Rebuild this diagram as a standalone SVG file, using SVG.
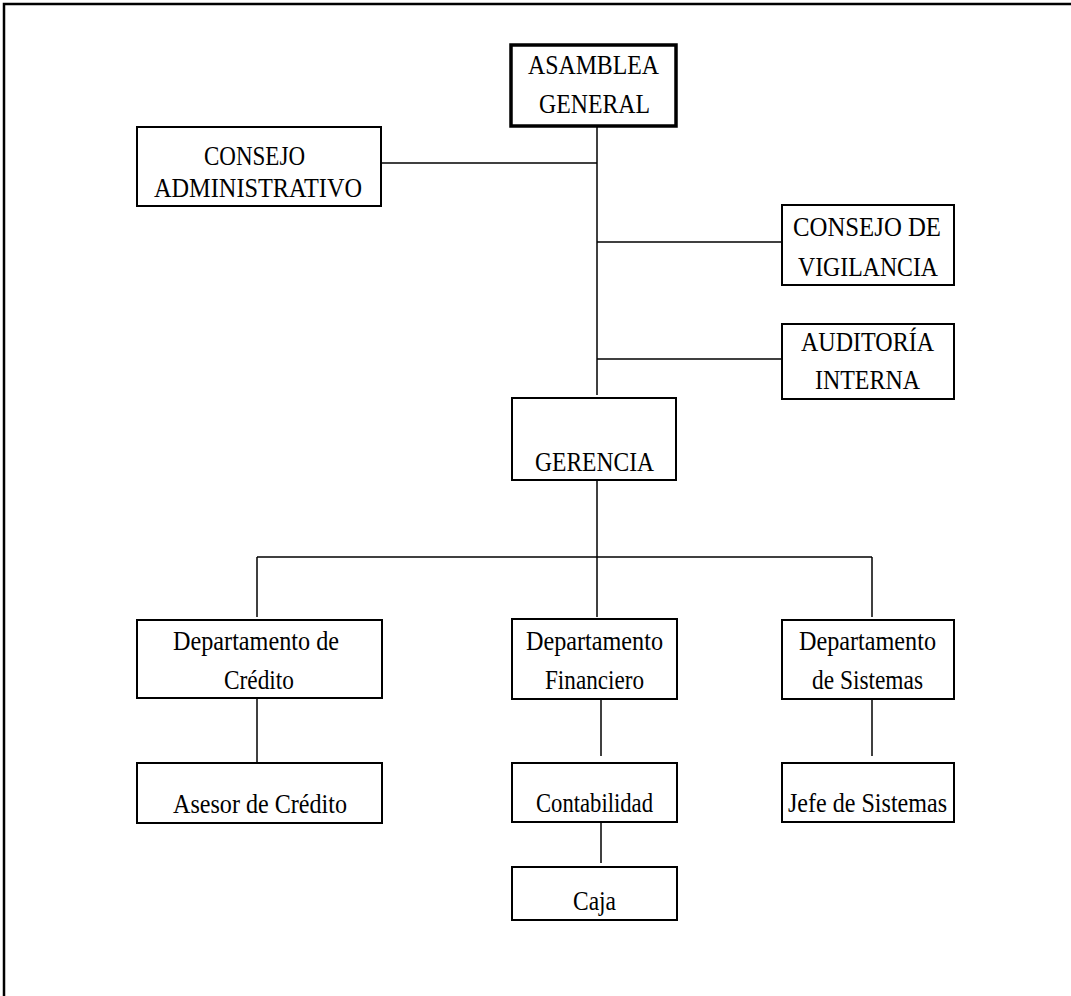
<svg xmlns="http://www.w3.org/2000/svg" width="1071" height="996" viewBox="0 0 1071 996">
<style>
.box{fill:#fff;stroke:#000;stroke-width:2}
.thick{stroke-width:3.5}
.t{font-family:"Liberation Serif","Times New Roman",serif;font-size:28px;fill:#000;text-anchor:middle}
.c{stroke:#000;stroke-width:1.5;fill:none}
</style>
<rect width="1071" height="996" fill="#fff"/>
<g id="frame">
<path d="M4,996 V4 H1071" fill="none" stroke="#000" stroke-width="2.5"/>
</g>
<g id="connectors">
<path class="c" d="M597,127 V395"/>
<path class="c" d="M381,163 H597"/>
<path class="c" d="M597,242 H782"/>
<path class="c" d="M597,359 H782"/>
<path class="c" d="M597,480 V557"/>
<path class="c" d="M257,557 H872"/>
<path class="c" d="M257,557 V617"/>
<path class="c" d="M597,557 V617"/>
<path class="c" d="M872,557 V617"/>
<path class="c" d="M257,698 V762"/>
<path class="c" d="M601,699 V756"/>
<path class="c" d="M872,699 V756"/>
<path class="c" d="M601,822 V863"/>
</g>
<g id="asamblea">
<rect class="box thick" x="511" y="45" width="165" height="81"/>
<text class="t" x="593.5" y="74" textLength="131" lengthAdjust="spacingAndGlyphs">ASAMBLEA</text>
<text class="t" x="594.5" y="113" textLength="111" lengthAdjust="spacingAndGlyphs">GENERAL</text>
</g>
<g id="consejo-admin">
<rect class="box" x="137" y="127" width="244" height="79"/>
<text class="t" x="254.5" y="165" textLength="101" lengthAdjust="spacingAndGlyphs">CONSEJO</text>
<text class="t" x="258" y="197" textLength="208" lengthAdjust="spacingAndGlyphs">ADMINISTRATIVO</text>
</g>
<g id="consejo-vigilancia">
<rect class="box" x="782" y="205" width="172" height="80"/>
<text class="t" x="867" y="236" textLength="148" lengthAdjust="spacingAndGlyphs">CONSEJO DE</text>
<text class="t" x="868" y="276" textLength="140" lengthAdjust="spacingAndGlyphs">VIGILANCIA</text>
</g>
<g id="auditoria">
<rect class="box" x="782" y="324" width="172" height="75"/>
<text class="t" x="867.5" y="351" textLength="133" lengthAdjust="spacingAndGlyphs">AUDITORÍA</text>
<text class="t" x="867.5" y="389" textLength="105" lengthAdjust="spacingAndGlyphs">INTERNA</text>
</g>
<g id="gerencia">
<rect class="box" x="512" y="398" width="164" height="82"/>
<text class="t" x="594.5" y="471" textLength="119" lengthAdjust="spacingAndGlyphs">GERENCIA</text>
</g>
<g id="dep-credito">
<rect class="box" x="137" y="620" width="245" height="78"/>
<text class="t" x="256" y="650" textLength="166" lengthAdjust="spacingAndGlyphs">Departamento de</text>
<text class="t" x="259" y="689" textLength="70" lengthAdjust="spacingAndGlyphs">Crédito</text>
</g>
<g id="dep-financiero">
<rect class="box" x="512" y="619" width="165" height="80"/>
<text class="t" x="594.5" y="650" textLength="137" lengthAdjust="spacingAndGlyphs">Departamento</text>
<text class="t" x="594.5" y="689" textLength="99" lengthAdjust="spacingAndGlyphs">Financiero</text>
</g>
<g id="dep-sistemas">
<rect class="box" x="782" y="620" width="172" height="79"/>
<text class="t" x="867.5" y="650" textLength="137" lengthAdjust="spacingAndGlyphs">Departamento</text>
<text class="t" x="867.5" y="689" textLength="111" lengthAdjust="spacingAndGlyphs">de Sistemas</text>
</g>
<g id="asesor">
<rect class="box" x="137" y="763" width="245" height="60"/>
<text class="t" x="260" y="813" textLength="174" lengthAdjust="spacingAndGlyphs">Asesor de Crédito</text>
</g>
<g id="contabilidad">
<rect class="box" x="512" y="763" width="165" height="59"/>
<text class="t" x="594.5" y="812" textLength="117" lengthAdjust="spacingAndGlyphs">Contabilidad</text>
</g>
<g id="jefe-sistemas">
<rect class="box" x="782" y="763" width="172" height="59"/>
<text class="t" x="867.5" y="812" textLength="159" lengthAdjust="spacingAndGlyphs">Jefe de Sistemas</text>
</g>
<g id="caja">
<rect class="box" x="512" y="867" width="165" height="53"/>
<text class="t" x="594.5" y="910" textLength="43" lengthAdjust="spacingAndGlyphs">Caja</text>
</g>
</svg>
